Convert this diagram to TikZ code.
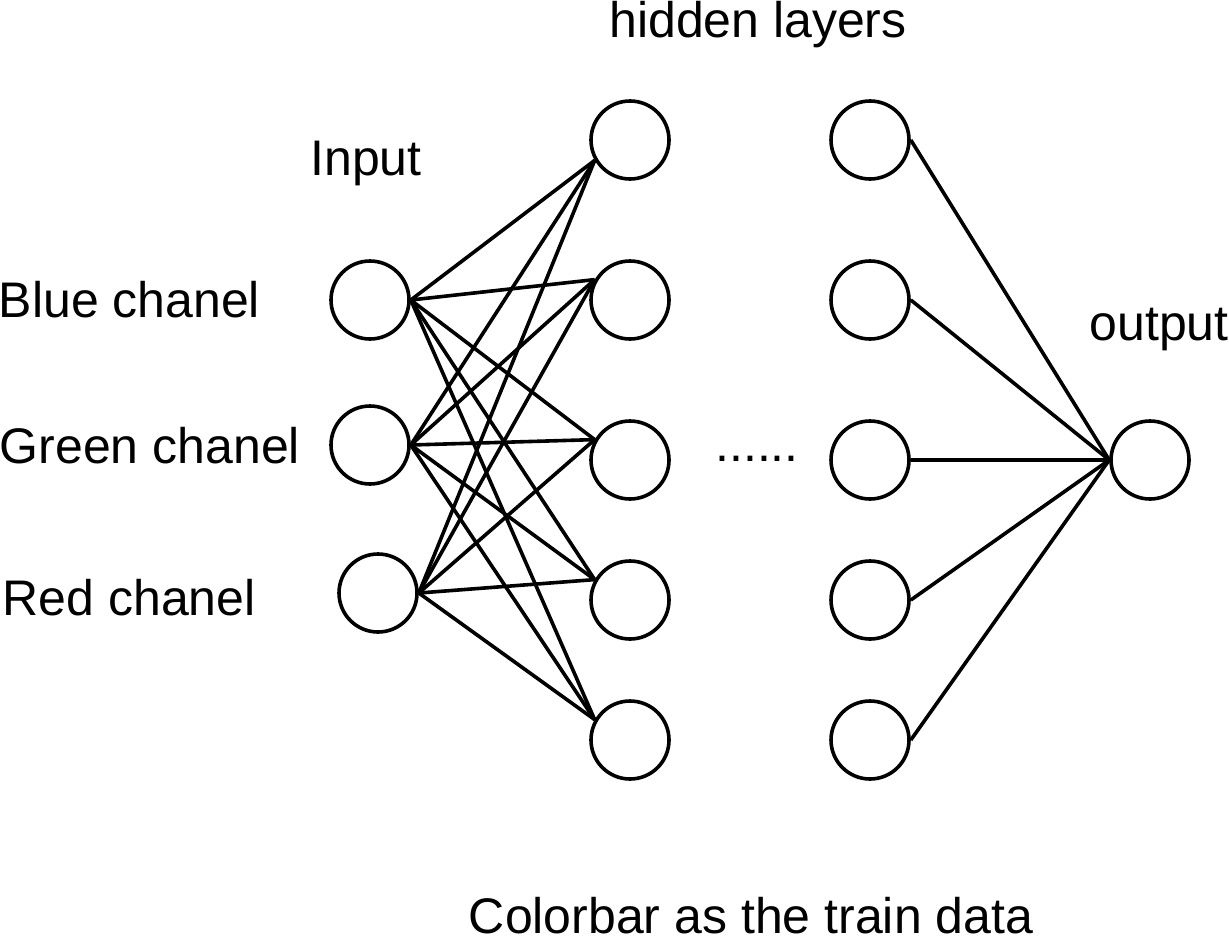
\documentclass[tikz,border=0pt]{standalone}
\usepackage{fontspec}
\setmainfont{Liberation Sans}
\tikzset{
  neuron/.style={circle,draw,minimum size=39pt,inner sep=0pt},
  lbl/.style={inner sep=0pt}
}
\begin{document}
\begin{tikzpicture}[x=0.5pt,y=-0.5pt,line width=1.8pt,
    font=\fontsize{25pt}{30pt}\selectfont]
      \useasboundingbox (0,0) rectangle (1229,937);
      \draw
        (370,300) node[neuron] (blue){}
        (370,445) node[neuron] (green){}
        (378,593) node[neuron] (red){}
        (630,140) node[neuron] (h1){}
        (630,300) node[neuron] (h2){}
        (630,460) node[neuron] (h3){}
        (630,600) node[neuron] (h4){}
        (630,740) node[neuron] (h5){}
        (870,140) node[neuron] (g1){}
        (870,300) node[neuron] (g2){}
        (870,460) node[neuron] (g3){}
        (870,600) node[neuron] (g4){}
        (870,740) node[neuron] (g5){}
        (1150,460) node[neuron] (out){};
      \node[lbl,anchor=base] (hidden) at (758,37) {hidden layers};
      \node[lbl,anchor=base] (input) at (366,175) {Input};
      \node[lbl,anchor=base west] (bluetxt) at (-3,317) {Blue chanel};
      \node[lbl,anchor=base west] (greentxt) at (-2,463) {Green chanel};
      \node[lbl,anchor=base west] (redtxt) at (1,615) {Red chanel};
      \node[lbl,anchor=base] (output) at (1159,340) {output};
      \node[lbl,anchor=base] (dots) at (757,461) {......};
      \node[lbl,anchor=base] (train) at (751,933) {Colorbar as the train data};
      \begin{scope}[-]
        \draw (blue.east) to (h1.210);
        \draw (blue.east) to (h2.150);
        \draw (blue.east) to (h3.150);
        \draw (blue.east) to (h4.150);
        \draw (blue.east) to (h5.150);
        \draw (green.east) to (h1.210);
        \draw (green.east) to (h2.150);
        \draw (green.east) to (h3.150);
        \draw (green.east) to (h4.150);
        \draw (green.east) to (h5.150);
        \draw (red.east) to (h1.210);
        \draw (red.east) to (h2.150);
        \draw (red.east) to (h3.150);
        \draw (red.east) to (h4.150);
        \draw (red.east) to (h5.150);
        \draw (g1.east) to (out.west);
        \draw (g2.east) to (out.west);
        \draw (g3.east) to (out.west);
        \draw (g4.east) to (out.west);
        \draw (g5.east) to (out.west);
      \end{scope}
    \end{tikzpicture}
\end{document}
